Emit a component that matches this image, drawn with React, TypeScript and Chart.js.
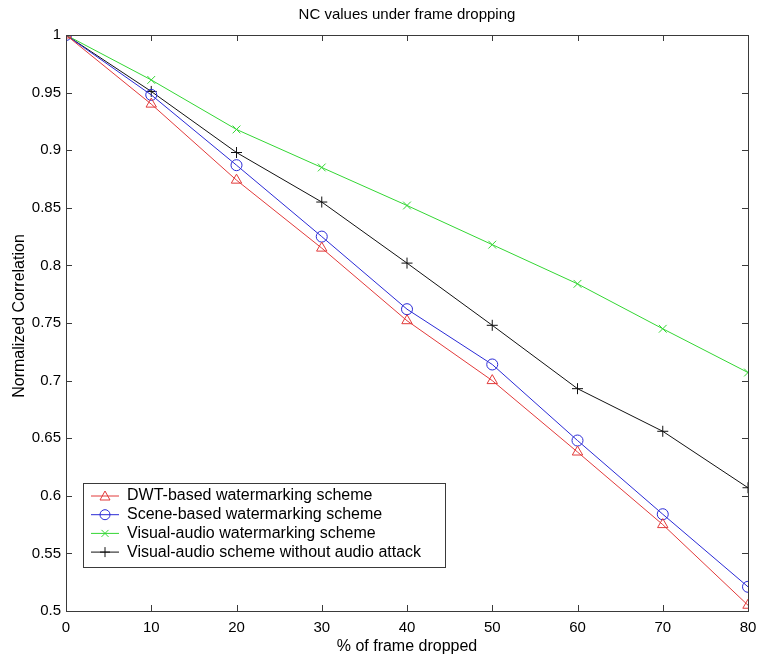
import React, { useEffect, useRef } from "react";
import { Chart, registerables } from "chart.js";

Chart.register(...registerables);

const xValues = [0, 10, 20, 30, 40, 50, 60, 70, 80];
const dwtSeries = [1, 0.94, 0.874, 0.815, 0.752, 0.7, 0.638, 0.575, 0.505];
const sceneSeries = [1, 0.948, 0.887, 0.825, 0.762, 0.714, 0.648, 0.584, 0.521];
const visualAudioSeries = [1, 0.961, 0.918, 0.885, 0.852, 0.818, 0.784, 0.745, 0.707];
const noAttackSeries = [1, 0.951, 0.898, 0.855, 0.802, 0.748, 0.693, 0.656, 0.607];
const seriesNames = [
  "DWT-based watermarking scheme",
  "Scene-based watermarking scheme",
  "Visual-audio watermarking scheme",
  "Visual-audio scheme without audio attack",
];
const xTicks = [0, 10, 20, 30, 40, 50, 60, 70, 80];
const yTicks = [0.5, 0.55, 0.6, 0.65, 0.7, 0.75, 0.8, 0.85, 0.9, 0.95, 1];
const titleText = "NC values under frame dropping";
const xTitle = "% of frame dropped";
const yTitle = "Normalized Correlation";

const FONT = "'Liberation Sans', Arial, sans-serif";
const colors = ["#e23a3a", "#2a2ad6", "#33d633", "#111111"];
const styles = ["triangle", "circle", "crossRot", "cross"];

function drawMarker(ctx: CanvasRenderingContext2D, style: string, x: number, y: number, r: number) {
  ctx.beginPath();
  if (style === "triangle") {
    ctx.moveTo(x, y - r);
    ctx.lineTo(x + r, y + r * 0.8);
    ctx.lineTo(x - r, y + r * 0.8);
    ctx.closePath();
  } else if (style === "circle") {
    ctx.arc(x, y, r, 0, Math.PI * 2);
  } else if (style === "crossRot") {
    const d = r * 0.7;
    ctx.moveTo(x - d, y - d);
    ctx.lineTo(x + d, y + d);
    ctx.moveTo(x + d, y - d);
    ctx.lineTo(x - d, y + d);
  } else {
    ctx.moveTo(x - r, y);
    ctx.lineTo(x + r, y);
    ctx.moveTo(x, y - r);
    ctx.lineTo(x, y + r);
  }
  ctx.stroke();
}

const framePlugin = {
  id: "matlabFrame",
  afterDatasetsDraw(chart: any) {
    const { ctx, chartArea } = chart;
    const { left, right, top, bottom } = chartArea;
    const xs = chart.scales.x;
    const ys = chart.scales.y;
    ctx.save();
    ctx.strokeStyle = "#3a3a3a";
    ctx.lineWidth = 1;
    ctx.strokeRect(Math.round(left) + 0.5, Math.round(top) + 0.5, Math.round(right - left), Math.round(bottom - top));
    ctx.beginPath();
    const tl = 6;
    xTicks.forEach((v) => {
      const px = Math.round(xs.getPixelForValue(v)) + 0.5;
      ctx.moveTo(px, bottom);
      ctx.lineTo(px, bottom - tl);
      ctx.moveTo(px, top);
      ctx.lineTo(px, top + tl);
    });
    yTicks.forEach((v) => {
      const py = Math.round(ys.getPixelForValue(v)) + 0.5;
      ctx.moveTo(left, py);
      ctx.lineTo(left + tl, py);
      ctx.moveTo(right, py);
      ctx.lineTo(right - tl, py);
    });
    ctx.stroke();
    // titles
    ctx.fillStyle = "#000";
    ctx.textAlign = "center";
    ctx.textBaseline = "middle";
    ctx.font = `15px ${FONT}`;
    ctx.fillText(titleText, (left + right) / 2, 15);
    ctx.font = `16px ${FONT}`;
    ctx.fillText(xTitle, (left + right) / 2, 647);
    ctx.save();
    ctx.translate(20, 316);
    ctx.rotate(-Math.PI / 2);
    ctx.fillText(yTitle, 0, 0);
    ctx.restore();
    ctx.restore();
  },
  afterDraw(chart: any) {
    const { ctx } = chart;
    ctx.save();
    const bx = 83, by = 483, bw = 362, bh = 84;
    ctx.fillStyle = "#fff";
    ctx.fillRect(bx, by, bw, bh);
    ctx.strokeStyle = "#3a3a3a";
    ctx.lineWidth = 1;
    ctx.strokeRect(bx + 0.5, by + 0.5, bw, bh);
    ctx.font = `16px ${FONT}`;
    ctx.textAlign = "left";
    ctx.textBaseline = "middle";
    seriesNames.forEach((name, i) => {
      const yy = 496 + i * 18.7;
      ctx.strokeStyle = colors[i];
      ctx.beginPath();
      ctx.moveTo(91, yy);
      ctx.lineTo(119, yy);
      ctx.stroke();
      drawMarker(ctx, styles[i], 105, yy, 5);
      ctx.fillStyle = "#000";
      ctx.fillText(name, 127, yy);
    });
    ctx.restore();
  },
};

export default function App() {
  const ref = useRef<HTMLCanvasElement | null>(null);
  useEffect(() => {
    if (!ref.current) return;
    const allSeries = [dwtSeries, sceneSeries, visualAudioSeries, noAttackSeries];
    const chart = new Chart(ref.current, {
      type: "line",
      data: {
        datasets: allSeries.map((s, i) => ({
          label: seriesNames[i],
          data: xValues.map((x, j) => ({ x, y: s[j] })),
          borderColor: colors[i],
          backgroundColor: "transparent",
          borderWidth: 1,
          pointStyle: styles[i] as any,
          pointRadius: i === 0 ? 6 : 5.5,
          pointBorderColor: colors[i],
          pointBackgroundColor: "transparent",
          pointBorderWidth: 1,
          tension: 0,
        })),
      },
      options: {
        animation: false,
        responsive: false,
        maintainAspectRatio: false,
        layout: { padding: { top: 35, right: 9, left: 0, bottom: 0 } },
        plugins: {
          legend: { display: false },
          title: { display: false },
          tooltip: { enabled: false },
        },
        scales: {
          x: {
            type: "linear",
            min: 0,
            max: 80,
            afterBuildTicks: (s: any) => {
              s.ticks = xTicks.map((v) => ({ value: v }));
            },
            afterFit: (s: any) => {
              s.height = 44;
              s.paddingLeft = 0;
              s.paddingRight = 0;
            },
            grid: { display: false, drawTicks: false },
            border: { display: false },
            ticks: {
              padding: 8,
              color: "#000",
              font: { family: FONT, size: 15 },
              callback: (v: any) => String(v),
            },
            title: { display: false },
          },
          y: {
            type: "linear",
            min: 0.5,
            max: 1,
            afterBuildTicks: (s: any) => {
              s.ticks = yTicks.map((v) => ({ value: v }));
            },
            afterFit: (s: any) => {
              s.width = 66;
              s.paddingTop = 0;
              s.paddingBottom = 0;
            },
            grid: { display: false, drawTicks: false },
            border: { display: false },
            ticks: {
              padding: 5,
              color: "#000",
              font: { family: FONT, size: 15 },
              callback: (v: any) => String(Math.round(v * 100) / 100),
            },
            title: { display: false },
          },
        },
      },
      plugins: [framePlugin],
    });
    return () => chart.destroy();
  }, []);
  return (
    <div style={{ position: "fixed", left: 0, top: 0, width: 757, height: 655, background: "#fff" }}>
      <canvas ref={ref} width={757} height={655} style={{ width: 757, height: 655 }} />
    </div>
  );
}
